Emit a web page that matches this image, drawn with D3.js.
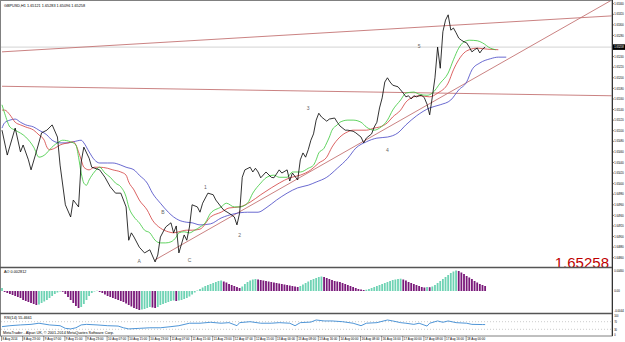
<!DOCTYPE html>
<html>
<head>
<meta charset="utf-8">
<script src="https://cdn.jsdelivr.net/npm/d3@7"></script>
<style>
  body { margin: 0; background: #fff; }
  svg { display: block; }
  text { font-family: "Liberation Sans", Arial, sans-serif; }
</style>
</head>
<body>
<script>
const w = 625;
const h = 342;

// close line, bar index + price
const closeBars = [0,2,5,7,8,10,11,13,15,17,19,21,22,24,26,27,29,30,31,33,34,37,39,41,43,45,47,48,49,50,52,54,56,58,59,60,62,64,65,66,67,69,70,71,72,74,75,76,78,80,81,83,84,86,88,89,90,91,92,94,95,96,97,98,100,102,103,105,106,108,109,110,112,113,114,115,116,117,118,119,120,121,122,123,124,126,127,128,130,131,133,134,136,137,138,140,141,142,143,144,145,146,147,148,150,151,152,153,154,155,156,157,158,159,160,161,162,163,164,165,166,167,168,169,170,171,172,173,174,175,176,177,178,179,180,181,182,183];
const closePrices = [1.65101,1.65054,1.65105,1.65060,1.65073,1.65045,1.65026,1.65060,1.65096,1.65101,1.65111,1.65088,1.65035,1.64960,1.64937,1.64969,1.64956,1.65041,1.65069,1.65048,1.65031,1.65026,1.65012,1.64994,1.64982,1.64982,1.64956,1.64893,1.64907,1.64899,1.64880,1.64869,1.64875,1.64852,1.64865,1.64899,1.64918,1.64926,1.64907,1.64920,1.64869,1.64903,1.64893,1.64918,1.64960,1.64956,1.64946,1.64963,1.64982,1.64979,1.64969,1.64956,1.64950,1.64944,1.64937,1.64922,1.64944,1.65012,1.65026,1.65031,1.65022,1.65029,1.65022,1.65011,1.65022,1.65012,1.65011,1.65026,1.65020,1.65026,1.65005,1.65020,1.65007,1.65045,1.65058,1.65050,1.65064,1.65082,1.65094,1.65120,1.65133,1.65126,1.65122,1.65118,1.65122,1.65124,1.65116,1.65109,1.65101,1.65101,1.65099,1.65096,1.65088,1.65077,1.65086,1.65094,1.65107,1.65116,1.65143,1.65162,1.65192,1.65200,1.65192,1.65186,1.65183,1.65177,1.65171,1.65164,1.65166,1.65160,1.65166,1.65164,1.65166,1.65167,1.65162,1.65150,1.65130,1.65164,1.65200,1.65258,1.65218,1.65287,1.65309,1.65319,1.65290,1.65294,1.65285,1.65275,1.65271,1.65268,1.65266,1.65258,1.65249,1.65253,1.65256,1.65247,1.65254,1.65258];

// alligator lines (lips green, teeth red, jaw blue)
const lipsBars = [0,1,3,5,9,12,14,17,18,21,23,26,28,29,30,31,32,33,35,37,39,41,43,45,47,48,50,52,54,56,58,60,62,64,66,67,69,71,73,75,77,79,83,85,88,90,93,95,98,100,103,105,108,110,113,116,118,119,120,122,123,124,125,127,128,131,133,136,138,141,143,146,148,151,153,156,158,161,163,166,169,171,173,175,177,180,182,185,187];
const lipsPrices = [1.65149,1.65133,1.65107,1.65101,1.65088,1.65069,1.65050,1.65058,1.65064,1.65077,1.65082,1.65079,1.65073,1.65050,1.65020,1.65001,1.64997,1.65007,1.65022,1.65031,1.65020,1.65012,1.65001,1.64994,1.64975,1.64956,1.64937,1.64926,1.64912,1.64907,1.64893,1.64888,1.64888,1.64890,1.64899,1.64907,1.64909,1.64907,1.64912,1.64918,1.64926,1.64944,1.64956,1.64963,1.64956,1.64956,1.64963,1.64982,1.65001,1.65011,1.65016,1.65012,1.65012,1.65022,1.65022,1.65029,1.65035,1.65045,1.65058,1.65067,1.65077,1.65088,1.65101,1.65111,1.65116,1.65120,1.65120,1.65116,1.65107,1.65101,1.65105,1.65120,1.65139,1.65158,1.65171,1.65173,1.65169,1.65167,1.65171,1.65190,1.65209,1.65234,1.65256,1.65268,1.65271,1.65270,1.65266,1.65256,1.65253];
const teethBars = [0,1,3,5,7,9,12,14,16,17,18,20,22,25,27,28,29,30,31,33,35,37,40,42,45,47,48,50,52,55,57,60,63,65,67,70,72,75,79,83,86,90,94,98,102,105,109,113,117,120,123,125,128,131,133,136,138,141,143,146,148,151,153,156,158,162,165,169,171,173,175,177,180,184,188];
const teethPrices = [1.65139,1.65139,1.65130,1.65116,1.65111,1.65107,1.65101,1.65092,1.65082,1.65069,1.65064,1.65067,1.65073,1.65077,1.65079,1.65073,1.65060,1.65045,1.65031,1.65026,1.65031,1.65031,1.65029,1.65026,1.65022,1.65016,1.65003,1.64988,1.64969,1.64950,1.64931,1.64916,1.64909,1.64907,1.64909,1.64912,1.64912,1.64914,1.64937,1.64946,1.64954,1.64956,1.64965,1.64979,1.64992,1.65001,1.65011,1.65016,1.65026,1.65039,1.65050,1.65069,1.65088,1.65098,1.65101,1.65101,1.65101,1.65105,1.65107,1.65115,1.65126,1.65139,1.65154,1.65164,1.65166,1.65164,1.65171,1.65190,1.65215,1.65234,1.65247,1.65253,1.65256,1.65254,1.65253];
const jawBars = [0,1,3,5,7,9,12,14,17,19,22,25,27,30,31,33,35,37,40,42,45,47,50,52,55,57,60,63,65,67,70,72,75,79,83,88,93,97,100,104,108,112,116,119,123,127,131,134,138,142,146,150,153,157,162,166,170,173,176,178,181,185,188,191];
const jawPrices = [1.65105,1.65115,1.65120,1.65122,1.65116,1.65111,1.65107,1.65101,1.65092,1.65082,1.65077,1.65077,1.65079,1.65082,1.65077,1.65060,1.65045,1.65039,1.65039,1.65039,1.65035,1.65031,1.65026,1.65016,1.65001,1.64982,1.64963,1.64946,1.64937,1.64931,1.64927,1.64926,1.64922,1.64924,1.64935,1.64943,1.64946,1.64946,1.64954,1.64969,1.64982,1.64992,1.64997,1.65003,1.65012,1.65029,1.65048,1.65067,1.65079,1.65086,1.65088,1.65096,1.65111,1.65128,1.65143,1.65149,1.65158,1.65177,1.65192,1.65215,1.65228,1.65236,1.65239,1.65239];

// drawn objects: start/end bar and price
const channelTop = { bars: [0, 231], prices: [1.65249, 1.65317] };
const channelLow = { bars: [0, 231], prices: [1.65184, 1.65166] };
const trendUp = { bars: [58, 231], prices: [1.64856, 1.65347] };

const waveNames = ["A", "B", "C", "1", "2", "3", "4", "5"];
const waveBars = [52, 61, 71, 77, 90, 116, 146, 158];
const wavePrices = [1.64850, 1.64943, 1.64852, 1.64990, 1.64899, 1.65139, 1.65060, 1.65256];

const priceTicks = [1.6534,1.6532,1.6530,1.6528,1.6526,1.6524,1.6522,1.6520,1.6518,1.6516,1.6514,1.6512,1.6510,1.6508,1.6506,1.6504,1.6502,1.6500,1.6498,1.6496,1.6494,1.6492,1.6490,1.6488,1.6486];
const lastPrice = 1.65258;

// awesome oscillator, one per bar
const aoValues = [0.0006,-0.0002,-0.0004,-0.0006,-0.0008,-0.001,-0.0012,-0.0014,-0.0018,-0.002,-0.0022,-0.0024,-0.0026,-0.0028,-0.0027,-0.0024,-0.0021,-0.0018,-0.0014,-0.001,-0.0006,-0.0003,-0.0001,-0.00016,-0.0006,-0.0012,-0.0018,-0.0024,-0.003,-0.0034,-0.0032,-0.0026,-0.0018,-0.001,-0.0004,-0.0001,0.00006,-0.0002,-0.0004,-0.0007,-0.001,-0.0012,-0.0014,-0.0016,-0.0018,-0.002,-0.0022,-0.0025,-0.0028,-0.0031,-0.0034,-0.0036,-0.0038,-0.0037,-0.0036,-0.0034,-0.0032,-0.0033,-0.0034,-0.0032,-0.0028,-0.0026,-0.0024,-0.0022,-0.002,-0.0019,-0.002,-0.0019,-0.0018,-0.0016,-0.0014,-0.0011,-0.0007,-0.0003,0.0001,0.0004,0.0007,0.001,0.0012,0.0014,0.0016,0.0018,0.002,0.0021,0.0019,0.0017,0.0014,0.0012,0.001,0.0008,0.0006,0.0009,0.0014,0.0018,0.0021,0.0023,0.0024,0.0023,0.0022,0.0021,0.002,0.0019,0.0018,0.0017,0.0016,0.0015,0.0014,0.0013,0.0012,0.0011,0.001,0.0009,0.0008,0.001,0.0013,0.0016,0.0019,0.0022,0.0024,0.0026,0.0028,0.0029,0.0028,0.0026,0.0024,0.0022,0.002,0.0019,0.0018,0.0016,0.0014,0.0012,0.001,0.0008,0.0006,0.0004,0.0003,0.0002,0.00026,0.0004,0.0006,0.0008,0.001,0.0012,0.0014,0.0016,0.0018,0.002,0.0022,0.0023,0.0024,0.00246,0.0023,0.0021,0.0018,0.0016,0.0014,0.0012,0.001,0.0008,0.0007,0.0008,0.00076,0.0009,0.0012,0.0016,0.002,0.0024,0.0028,0.0032,0.0036,0.0039,0.0041,0.004,0.0037,0.0034,0.003,0.0027,0.0024,0.002,0.0017,0.0014,0.0012,0.001];

// RSI(14)
const rsiBars = [0,3,7,11,14,18,22,24,26,28,30,32,36,40,44,46,48,52,56,60,64,67,71,75,79,83,86,89,90,94,98,102,105,109,111,113,117,119,122,125,129,133,136,138,142,146,148,151,153,156,158,161,162,165,167,169,172,176,178,182,183];
const rsiValues = [44,49,53,56,62,53,49,35,32,38,53,56,53,49,47,38,32,35,38,38,44,49,62,62,67,62,65,49,65,70,62,62,65,62,49,65,68,79,74,74,70,62,49,62,65,79,74,65,62,56,62,47,62,74,67,74,65,62,56,55,55];

const timeLabels = ["8 Aug 2014","8 Aug 23:00","9 Aug 07:00","9 Aug 15:00","9 Aug 23:00","10 Aug 07:00","10 Aug 15:00","10 Aug 23:00","11 Aug 07:00","11 Aug 15:00","11 Aug 23:00","12 Aug 07:00","12 Aug 15:00","13 Aug 00:00","13 Aug 08:00","13 Aug 16:00","14 Aug 00:00","16 Aug 08:00","16 Aug 16:00","17 Aug 00:00","17 Aug 08:00","17 Aug 16:00","18 Aug 00:00"];

//create our svg
let svg = d3.select("body").append("svg").attr("width", w).attr("height", h);

const plotRight = 612;
const mainTop = 1, mainBottom = 267;
const aoTop = 268, aoBottom = 313;
const rsiTop = 314, rsiBottom = 336;
const small = 3.3;

let x = d3.scaleLinear().domain([0, 231]).range([2, 2 + 231 * 2.64]);
let y = d3.scaleLinear().domain([1.6484, 1.6534]).range([268.3, 3.7]);
let yAO = d3.scaleLinear().domain([-0.0044, 0.0046]).range([aoBottom, aoTop]);
let yRSI = d3.scaleLinear().domain([0, 100]).range([335, 316]);

svg.append("defs").append("clipPath").attr("id", "mainClip")
  .append("rect").attr("x", 1).attr("y", mainTop).attr("width", plotRight - 1).attr("height", mainBottom - mainTop);

let main = svg.append("g").attr("clip-path", "url(#mainClip)");

// last price line
main.append("line")
  .attr("x1", 1).attr("x2", plotRight)
  .attr("y1", y(lastPrice)).attr("y2", y(lastPrice))
  .attr("stroke", "#c8c8c8").attr("stroke-width", 0.8);

// trend lines
[channelTop, channelLow, trendUp].forEach(function (t) {
  main.append("line")
    .attr("x1", x(t.bars[0])).attr("y1", y(t.prices[0]))
    .attr("x2", x(t.bars[1])).attr("y2", y(t.prices[1]))
    .attr("stroke", "#c47474").attr("stroke-width", 0.9);
});

function pts(bars, vals) {
  return bars.map(function (b, i) { return [b, vals[i]]; });
}

let maLine = d3.line()
  .x(function (d) { return x(d[0]); })
  .y(function (d) { return y(d[1]); })
  .curve(d3.curveMonotoneX);

main.append("path").attr("d", maLine(pts(jawBars, jawPrices)))
  .attr("fill", "none").attr("stroke", "#4444c4").attr("stroke-width", 0.8);
main.append("path").attr("d", maLine(pts(teethBars, teethPrices)))
  .attr("fill", "none").attr("stroke", "#d23c3c").attr("stroke-width", 0.8);
main.append("path").attr("d", maLine(pts(lipsBars, lipsPrices)))
  .attr("fill", "none").attr("stroke", "#38c838").attr("stroke-width", 0.8);

let closeLine = d3.line()
  .x(function (d) { return x(d[0]); })
  .y(function (d) { return y(d[1]); });

main.append("path").attr("d", closeLine(pts(closeBars, closePrices)))
  .attr("fill", "none").attr("stroke", "#000").attr("stroke-width", 0.8);

// wave labels
main.selectAll("text.wave")
  .data(waveNames)
  .enter()
  .append("text")
  .attr("class", "wave")
  .text(function (d) { return d; })
  .attr("x", function (d, i) { return x(waveBars[i]); })
  .attr("y", function (d, i) { return y(wavePrices[i]); })
  .attr("font-size", 5)
  .attr("fill", "#666")
  .attr("text-anchor", "middle");

// title
svg.append("text").attr("x", 4).attr("y", 6.5)
  .text("GBPUSD,H1  1.65121 1.65283 1.65096 1.65258")
  .attr("font-size", 3.8).attr("fill", "#000");

// big price text
svg.append("text").attr("x", 609).attr("y", 268)
  .text("1.65258")
  .attr("font-size", 15).attr("fill", "#c00000")
  .attr("text-anchor", "end");

// AO bars
svg.selectAll("rect.ao")
  .data(aoValues)
  .enter()
  .append("rect")
  .attr("class", "ao")
  .attr("x", function (d, i) { return x(i) - 0.9; })
  .attr("width", 1.8)
  .attr("y", function (d) { return Math.min(yAO(d), yAO(0)); })
  .attr("height", function (d) { return Math.abs(yAO(d) - yAO(0)); })
  .attr("fill", function (d, i) {
    if (i > 0 && d < aoValues[i - 1]) {
      return "#7a1a7a";
    }
    return "#6fd3b4";
  });

svg.append("text").attr("x", 4).attr("y", 272.5)
  .text("AO 0.002812").attr("font-size", 3.8).attr("fill", "#000");

// RSI
[70, 30].forEach(function (lv) {
  svg.append("line")
    .attr("x1", 1).attr("x2", plotRight)
    .attr("y1", yRSI(lv)).attr("y2", yRSI(lv))
    .attr("stroke", "#aaa").attr("stroke-width", 0.6)
    .attr("stroke-dasharray", "1,2");
});

let rsiLine = d3.line()
  .x(function (d) { return x(d[0]); })
  .y(function (d) { return yRSI(d[1]); });

svg.append("path").attr("d", rsiLine(pts(rsiBars, rsiValues)))
  .attr("fill", "none").attr("stroke", "#3c8ad2").attr("stroke-width", 0.9);

svg.append("text").attr("x", 4).attr("y", 318.5)
  .text("RSI(14) 55.4661").attr("font-size", 3.8).attr("fill", "#000");

svg.append("text").attr("x", 3).attr("y", 334.3)
  .text("MetaTrader - Alpari UK, \u00a9 2001-2014 MetaQuotes Software Corp.")
  .attr("font-size", 3.8).attr("fill", "#000");

// panel frames
const frame = "#808080";
svg.append("rect").attr("x", 0.5).attr("y", 0.5)
  .attr("width", plotRight - 0.5).attr("height", rsiBottom - 0.5)
  .attr("fill", "none").attr("stroke", frame).attr("stroke-width", 1);
[mainBottom + 0.5, aoBottom + 0.5].forEach(function (yy) {
  svg.append("line").attr("x1", 0).attr("x2", plotRight)
    .attr("y1", yy).attr("y2", yy)
    .attr("stroke", "#555").attr("stroke-width", 1.5);
});

// right price axis
let priceAxis = svg.append("g").attr("transform", "translate(" + plotRight + ",0)");

function axisText(yy, label, color) {
  priceAxis.append("text").attr("x", 2.2).attr("y", yy + 1.2)
    .text(label).attr("font-size", small).attr("fill", color || "#000")
    .attr("textLength", Math.min(9.6, label.length * 1.4))
    .attr("lengthAdjust", "spacingAndGlyphs");
}

priceTicks
  .filter(function (p) { return Math.abs(y(p) - y(lastPrice)) > 5; })
  .forEach(function (p) {
    priceAxis.append("line").attr("x1", 0).attr("x2", 2).attr("y1", y(p)).attr("y2", y(p))
      .attr("stroke", "#000").attr("stroke-width", 0.5);
    axisText(y(p), d3.format(".5f")(p));
  });

priceAxis.append("rect").attr("x", 1).attr("y", y(lastPrice) - 2.8)
  .attr("width", 12).attr("height", 5.6).attr("fill", "#000");
axisText(y(lastPrice), d3.format(".5f")(lastPrice), "#fff");

// AO axis labels
axisText(yAO(0.0046) + 2.5, "0.00460");
axisText(yAO(0), "0.00");
axisText(yAO(-0.0044) - 2.2, "-0.0044");

// RSI axis labels
[100, 70, 30, 0].forEach(function (lv) {
  axisText(yRSI(lv), String(lv));
});

priceAxis.append("line").attr("x1", 0.5).attr("x2", 0.5).attr("y1", 0).attr("y2", rsiBottom)
  .attr("stroke", "#333").attr("stroke-width", 1);

// time axis
let timeAxis = svg.append("g");
timeLabels.forEach(function (d, i) {
  let xx = x(i * 8);
  timeAxis.append("line").attr("x1", xx - 0.5).attr("x2", xx - 0.5).attr("y1", rsiBottom).attr("y2", 341)
    .attr("stroke", "#000").attr("stroke-width", 0.4);
  timeAxis.append("text").attr("x", xx + 0.5).attr("y", 340.3)
    .text(d).attr("font-size", small).attr("fill", "#000")
    .attr("textLength", d.length * 1.5)
    .attr("lengthAdjust", "spacingAndGlyphs");
});
</script>
</body>
</html>
